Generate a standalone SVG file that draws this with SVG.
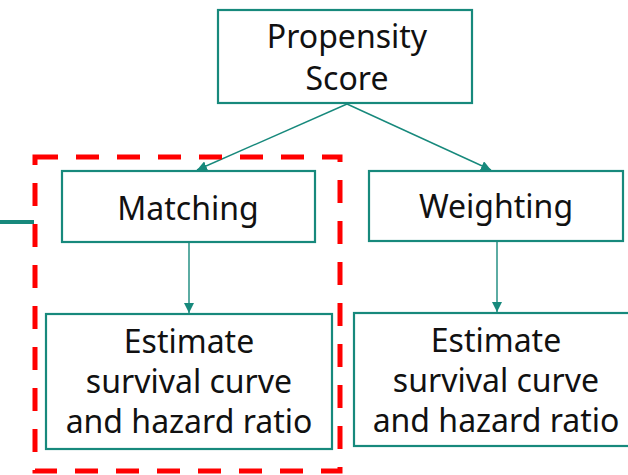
<svg xmlns="http://www.w3.org/2000/svg" width="628" height="475" viewBox="0 0 628 475">
  <defs>
    <marker id="arrow" viewBox="0 0 10 10" refX="10" refY="5" markerWidth="10" markerHeight="10" markerUnits="userSpaceOnUse" orient="auto">
      <path d="M0,0 L10,5 L0,10 z" fill="#17897c"/>
    </marker>
    <style>
      .box { fill: #ffffff; stroke: #17897c; stroke-width: 2.2; }
      .label { font-family: "Noto Sans", "Open Sans", sans-serif; font-size: 32px; fill: #111111; text-anchor: middle; }
      .conn { stroke: #17897c; stroke-width: 1.4; fill: none; }
    </style>
  </defs>
  <rect width="628" height="475" fill="#ffffff"/>

  <g id="connectors">
    <line class="conn" x1="347" y1="104" x2="197" y2="170" marker-end="url(#arrow)"/>
    <line class="conn" x1="347" y1="104" x2="491" y2="170" marker-end="url(#arrow)"/>
    <line class="conn" x1="189" y1="242" x2="189" y2="313" marker-end="url(#arrow)"/>
    <line class="conn" x1="497" y1="241" x2="497" y2="312" marker-end="url(#arrow)"/>
    <line x1="0" y1="222" x2="34" y2="222" stroke="#17897c" stroke-width="4"/>
  </g>

  <g id="node-propensity">
    <rect class="box" x="218" y="10" width="254" height="93"/>
    <text class="label" x="347" y="48">Propensity</text>
    <text class="label" x="347" y="90">Score</text>
  </g>

  <g id="node-matching">
    <rect class="box" x="62" y="171" width="253" height="71"/>
    <text class="label" x="188" y="220">Matching</text>
  </g>

  <g id="node-weighting">
    <rect class="box" x="369" y="171" width="254" height="70"/>
    <text class="label" x="496" y="218">Weighting</text>
  </g>

  <g id="node-estimate-matching">
    <rect class="box" x="46" y="314" width="286" height="135"/>
    <text class="label" x="189" y="353">Estimate</text>
    <text class="label" x="189" y="393">survival curve</text>
    <text class="label" x="189" y="433">and hazard ratio</text>
  </g>

  <g id="node-estimate-weighting">
    <rect class="box" x="354" y="313" width="290" height="133"/>
    <text class="label" x="496" y="352">Estimate</text>
    <text class="label" x="496" y="392">survival curve</text>
    <text class="label" x="496" y="432">and hazard ratio</text>
  </g>

  <g id="highlight">
    <rect x="35" y="157" width="305" height="314" fill="none" stroke="#ff0000" stroke-width="5" stroke-dasharray="23 18"/>
  </g>
</svg>
